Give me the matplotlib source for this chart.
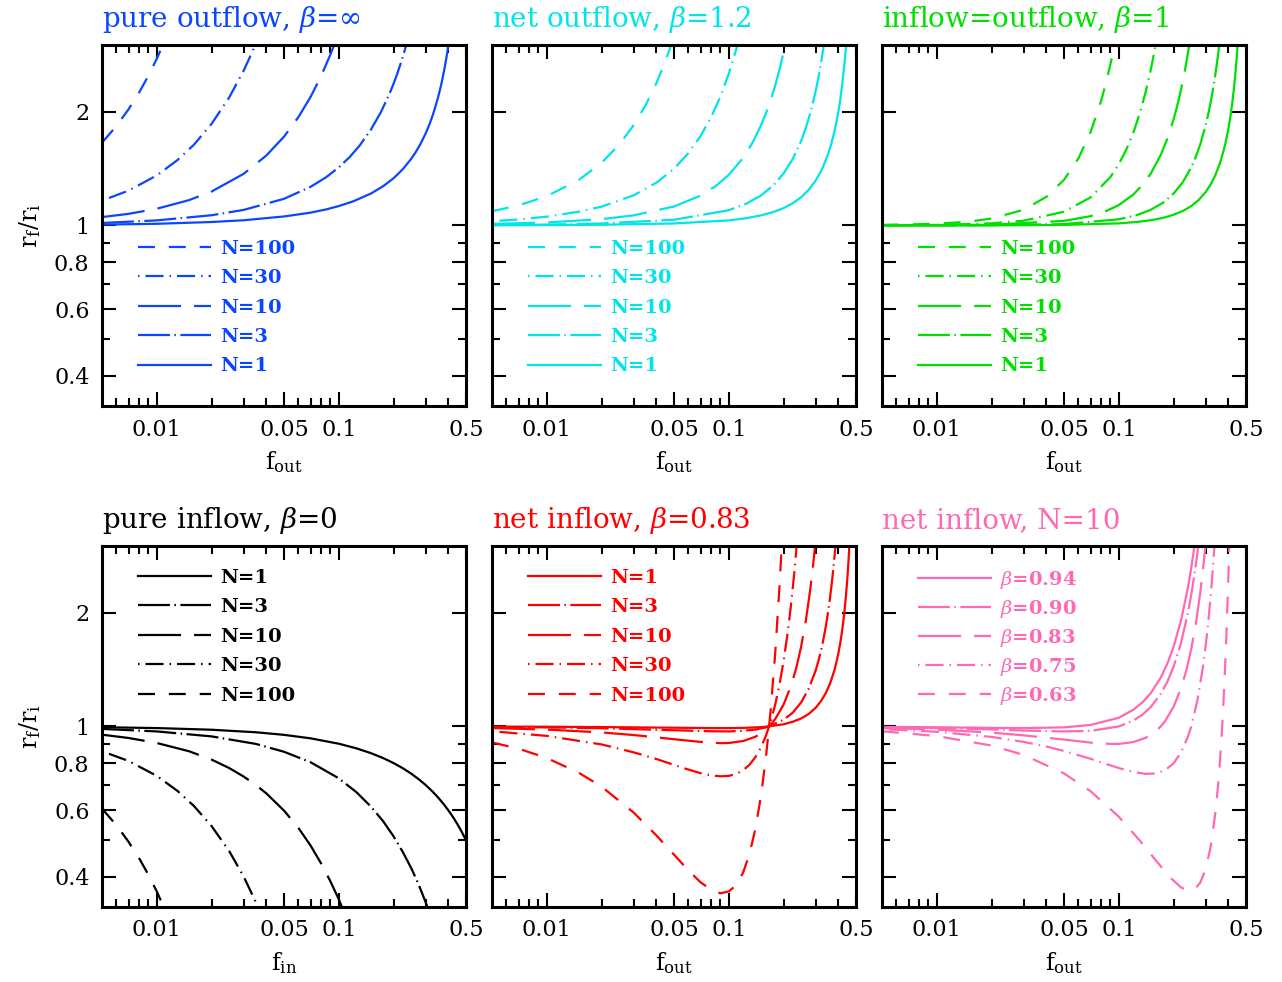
import matplotlib
matplotlib.use('Agg')
import matplotlib.pyplot as plt
from matplotlib.ticker import NullFormatter

plt.rcParams['font.family'] = 'DejaVu Serif'
plt.rcParams['mathtext.fontset'] = 'dejavuserif'
plt.rcParams['lines.scale_dashes'] = False

# ---------------- data ----------------
# curve order in every panel: N=1, 3, 10, 30, 100  (last panel: beta=0.94 ... 0.63)
out_inf_x = [
    [0.005, 0.01, 0.02, 0.03, 0.05, 0.07, 0.085, 0.1, 0.12, 0.15, 0.175, 0.2, 0.225, 0.25, 0.265, 0.28, 0.3,
     0.315, 0.33, 0.35, 0.36, 0.37, 0.38, 0.39, 0.395, 0.4, 0.41],
    [0.005, 0.01, 0.02, 0.03, 0.05, 0.07, 0.085, 0.1, 0.115, 0.13, 0.15, 0.17, 0.19, 0.2, 0.21, 0.22, 0.23, 0.24],
    [0.005, 0.007, 0.01, 0.015, 0.02, 0.03, 0.04, 0.05, 0.06, 0.07, 0.08, 0.09, 0.095],
    [0.005, 0.007, 0.01, 0.013, 0.016, 0.02, 0.025, 0.03, 0.033, 0.035],
    [0.005, 0.006, 0.007, 0.008, 0.009, 0.01, 0.011],
]
out_inf_y = [
    [1.005, 1.010, 1.021, 1.032, 1.056, 1.081, 1.102, 1.125, 1.158, 1.214, 1.269, 1.333, 1.409, 1.5, 1.564, 1.636,
     1.75, 1.851, 1.971, 2.167, 2.286, 2.423, 2.583, 2.773, 2.881, 3.0, 3.278],
    [1.015, 1.031, 1.064, 1.099, 1.176, 1.265, 1.340, 1.424, 1.518, 1.625, 1.791, 1.989, 2.230, 2.370, 2.527, 2.702, 2.899, 3.122],
    [1.052, 1.073, 1.107, 1.166, 1.229, 1.369, 1.531, 1.717, 1.934, 2.187, 2.484, 2.833, 3.031],
    [1.163, 1.236, 1.356, 1.489, 1.635, 1.856, 2.180, 2.566, 2.834, 3.029],
    [1.655, 1.832, 2.029, 2.247, 2.490, 2.760, 3.060],
]

out12_x = [
    [0.005, 0.01, 0.02, 0.05, 0.1, 0.125, 0.15, 0.175, 0.2, 0.225, 0.25, 0.275, 0.3, 0.325, 0.35, 0.365, 0.38,
     0.39, 0.4, 0.41, 0.42, 0.43, 0.435, 0.44, 0.445],
    [0.005, 0.01, 0.02, 0.05, 0.1, 0.125, 0.15, 0.175, 0.2, 0.225, 0.25, 0.265, 0.28, 0.3, 0.31, 0.32, 0.33, 0.34],
    [0.005, 0.01, 0.02, 0.03, 0.05, 0.07, 0.085, 0.1, 0.12, 0.135, 0.15, 0.16, 0.17, 0.18, 0.19, 0.2, 0.21],
    [0.005, 0.007, 0.01, 0.015, 0.02, 0.03, 0.04, 0.05, 0.06, 0.07, 0.08, 0.09, 0.1, 0.11, 0.115],
    [0.005, 0.007, 0.01, 0.015, 0.02, 0.025, 0.03, 0.035, 0.04, 0.045, 0.05],
]
out12_y = [
    [1.001, 1.002, 1.004, 1.012, 1.031, 1.045, 1.063, 1.084, 1.111, 1.145, 1.188, 1.242, 1.313, 1.406, 1.535,
     1.637, 1.765, 1.872, 2.0, 2.158, 2.356, 2.613, 2.771, 2.956, 3.174],
    [1.003, 1.005, 1.012, 1.035, 1.097, 1.142, 1.199, 1.274, 1.372, 1.501, 1.675, 1.809, 1.975, 2.261, 2.442, 2.658, 2.916, 3.229],
    [1.009, 1.018, 1.039, 1.063, 1.122, 1.199, 1.272, 1.360, 1.510, 1.654, 1.834, 1.978, 2.147, 2.347, 2.584, 2.868, 3.21],
    [1.026, 1.037, 1.055, 1.087, 1.121, 1.201, 1.297, 1.412, 1.553, 1.724, 1.934, 2.193, 2.517, 2.926, 3.170],
    [1.090, 1.130, 1.195, 1.319, 1.464, 1.636, 1.840, 2.084, 2.377, 2.731, 3.161],
]

equal_x = [
    [0.005, 0.01, 0.02, 0.05, 0.1, 0.125, 0.15, 0.175, 0.2, 0.225, 0.25, 0.275, 0.3, 0.32, 0.34, 0.36, 0.38,
     0.39, 0.4, 0.41, 0.42, 0.43, 0.435, 0.44, 0.445, 0.45],
    [0.005, 0.01, 0.02, 0.05, 0.1, 0.125, 0.15, 0.175, 0.2, 0.225, 0.25, 0.265, 0.28, 0.3, 0.31, 0.32, 0.33,
     0.34, 0.35, 0.355, 0.36],
    [0.005, 0.01, 0.02, 0.05, 0.07, 0.085, 0.1, 0.12, 0.135, 0.15, 0.17, 0.185, 0.2, 0.21, 0.22, 0.23, 0.24, 0.25],
    [0.005, 0.01, 0.02, 0.03, 0.05, 0.07, 0.09, 0.1, 0.11, 0.12, 0.13, 0.14, 0.15, 0.16],
    [0.005, 0.01, 0.015, 0.02, 0.03, 0.04, 0.05, 0.06, 0.07, 0.08, 0.085, 0.09, 0.095],
]
equal_y = [
    [1.0, 1.0001, 1.0004, 1.003, 1.0125, 1.021, 1.032, 1.047, 1.067, 1.092, 1.125, 1.168, 1.225, 1.284, 1.361,
     1.463, 1.602, 1.691, 1.8, 1.934, 2.103, 2.321, 2.456, 2.613, 2.800, 3.025],
    [1.0001, 1.0003, 1.0013, 1.008, 1.038, 1.064, 1.100, 1.148, 1.214, 1.302, 1.424, 1.519, 1.635, 1.838, 1.967,
     2.119, 2.302, 2.522, 2.793, 2.952, 3.130],
    [1.0003, 1.001, 1.004, 1.028, 1.058, 1.091, 1.132, 1.206, 1.280, 1.372, 1.535, 1.697, 1.907, 2.081, 2.291, 2.546, 2.859, 3.247],
    [1.001, 1.003, 1.013, 1.029, 1.087, 1.186, 1.343, 1.452, 1.587, 1.756, 1.969, 2.238, 2.583, 3.030],
    [1.003, 1.010, 1.023, 1.043, 1.100, 1.190, 1.320, 1.504, 1.765, 2.136, 2.379, 2.672, 3.028],
]

in0_x = [
    [0.005, 0.01, 0.02, 0.035, 0.05, 0.07, 0.1, 0.125, 0.15, 0.175, 0.2, 0.225, 0.25, 0.275, 0.3, 0.325, 0.35,
     0.375, 0.4, 0.425, 0.45, 0.475, 0.5],
    [0.005, 0.01, 0.02, 0.035, 0.05, 0.07, 0.1, 0.125, 0.15, 0.175, 0.2, 0.225, 0.25, 0.265, 0.28, 0.3, 0.32],
    [0.005, 0.007, 0.01, 0.015, 0.02, 0.025, 0.03, 0.035, 0.04, 0.05, 0.06, 0.07, 0.08, 0.09, 0.1, 0.11],
    [0.005, 0.007, 0.01, 0.013, 0.016, 0.02, 0.025, 0.03, 0.035, 0.038],
    [0.005, 0.006, 0.007, 0.008, 0.009, 0.01, 0.0115],
]
in0_y = [
    [0.995, 0.99, 0.98, 0.965, 0.95, 0.93, 0.9, 0.875, 0.85, 0.825, 0.8, 0.775, 0.75, 0.725, 0.7, 0.675, 0.65,
     0.625, 0.6, 0.575, 0.55, 0.525, 0.5],
    [0.985, 0.970, 0.941, 0.899, 0.857, 0.804, 0.729, 0.670, 0.614, 0.562, 0.512, 0.465, 0.422, 0.397, 0.373, 0.343, 0.314],
    [0.951, 0.932, 0.904, 0.860, 0.817, 0.776, 0.737, 0.700, 0.665, 0.599, 0.539, 0.484, 0.434, 0.389, 0.349, 0.312],
    [0.860, 0.810, 0.740, 0.675, 0.616, 0.545, 0.468, 0.401, 0.343, 0.313],
    [0.606, 0.548, 0.495, 0.448, 0.405, 0.366, 0.315],
]

in083_x = [
    [0.005, 0.01, 0.02, 0.05, 0.08, 0.1, 0.12, 0.14, 0.16, 0.2, 0.225, 0.25, 0.275, 0.3, 0.32, 0.34, 0.36, 0.38,
     0.39, 0.4, 0.41, 0.42, 0.43, 0.44, 0.45, 0.455, 0.46],
    [0.005, 0.01, 0.02, 0.05, 0.08, 0.1, 0.12, 0.14, 0.16, 0.2, 0.225, 0.25, 0.275, 0.3, 0.31, 0.32, 0.33, 0.34,
     0.35, 0.36, 0.37, 0.38, 0.385, 0.39],
    [0.005, 0.01, 0.02, 0.03, 0.05, 0.07, 0.09, 0.1, 0.12, 0.14, 0.15, 0.16, 0.17, 0.18, 0.2, 0.22, 0.235, 0.25,
     0.265, 0.28, 0.29, 0.3],
    [0.005, 0.01, 0.02, 0.03, 0.04, 0.05, 0.06, 0.07, 0.08, 0.09, 0.1, 0.11, 0.12, 0.13, 0.14, 0.15, 0.16, 0.17,
     0.18, 0.19, 0.2, 0.21, 0.22, 0.23, 0.24],
    [0.005, 0.007, 0.01, 0.015, 0.02, 0.03, 0.04, 0.05, 0.06, 0.07, 0.08, 0.09, 0.1, 0.11, 0.12, 0.13, 0.14, 0.15,
     0.16, 0.17, 0.18, 0.19, 0.195, 0.2],
]
in083_y = [
    [0.999, 0.998, 0.996, 0.992, 0.990, 0.990, 0.991, 0.994, 0.998, 1.013, 1.029, 1.05, 1.079, 1.12, 1.164, 1.221,
     1.298, 1.405, 1.475, 1.56, 1.665, 1.798, 1.971, 2.203, 2.53, 2.749, 3.024],
    [0.997, 0.994, 0.989, 0.977, 0.971, 0.970, 0.974, 0.981, 0.994, 1.041, 1.088, 1.158, 1.258, 1.405, 1.483, 1.575,
     1.686, 1.820, 1.985, 2.188, 2.445, 2.775, 2.977, 3.210],
    [0.990, 0.981, 0.964, 0.949, 0.925, 0.910, 0.903, 0.904, 0.915, 0.939, 0.958, 0.981, 1.010, 1.046, 1.142, 1.282,
     1.429, 1.629, 1.903, 2.293, 2.646, 3.106],
    [0.971, 0.944, 0.896, 0.854, 0.820, 0.791, 0.769, 0.752, 0.742, 0.738, 0.740, 0.749, 0.766, 0.792, 0.829, 0.879,
     0.945, 1.031, 1.144, 1.292, 1.488, 1.750, 2.106, 2.601, 3.301],
    [0.907, 0.873, 0.825, 0.754, 0.693, 0.592, 0.515, 0.458, 0.416, 0.387, 0.370, 0.362, 0.366, 0.381, 0.411, 0.460,
     0.536, 0.651, 0.828, 1.108, 1.567, 2.350, 2.952, 3.761],
]

n10_x = [
    [0.005, 0.01, 0.02, 0.03, 0.05, 0.07, 0.1, 0.12, 0.135, 0.15, 0.17, 0.185, 0.2, 0.22, 0.24, 0.25, 0.26, 0.27],
    [0.005, 0.01, 0.02, 0.03, 0.05, 0.07, 0.1, 0.12, 0.135, 0.15, 0.17, 0.185, 0.2, 0.22, 0.24, 0.25, 0.26, 0.27, 0.28],
    [0.005, 0.01, 0.02, 0.03, 0.05, 0.07, 0.09, 0.1, 0.12, 0.14, 0.15, 0.16, 0.17, 0.18, 0.2, 0.22, 0.235, 0.25,
     0.265, 0.28, 0.29, 0.3],
    [0.005, 0.01, 0.02, 0.03, 0.04, 0.05, 0.07, 0.1, 0.12, 0.14, 0.16, 0.18, 0.2, 0.22, 0.24, 0.25, 0.27, 0.29,
     0.3, 0.31, 0.32, 0.33, 0.34],
    [0.005, 0.01, 0.02, 0.03, 0.05, 0.07, 0.1, 0.13, 0.16, 0.19, 0.22, 0.24, 0.25, 0.26, 0.28, 0.3, 0.32, 0.34,
     0.35, 0.36, 0.37, 0.38, 0.39, 0.4, 0.405],
]
n10_y = [
    [0.997, 0.995, 0.991, 0.990, 0.994, 1.009, 1.054, 1.106, 1.158, 1.225, 1.346, 1.467, 1.623, 1.911, 2.332, 2.618, 2.978, 3.429],
    [0.995, 0.990, 0.982, 0.975, 0.970, 0.973, 1.0, 1.036, 1.074, 1.126, 1.219, 1.314, 1.439, 1.666, 2.001, 2.226,
     2.509, 2.862, 3.315],
    [0.990, 0.981, 0.963, 0.947, 0.923, 0.906, 0.899, 0.899, 0.909, 0.932, 0.950, 0.972, 1.0, 1.034, 1.127, 1.263,
     1.407, 1.601, 1.867, 2.247, 2.590, 3.036],
    [0.984, 0.968, 0.938, 0.910, 0.885, 0.861, 0.821, 0.776, 0.758, 0.749, 0.751, 0.766, 0.799, 0.854, 0.940, 1.0,
     1.168, 1.436, 1.629, 1.882, 2.218, 2.678, 3.320],
    [0.971, 0.943, 0.890, 0.841, 0.751, 0.674, 0.577, 0.500, 0.442, 0.400, 0.375, 0.368, 0.368, 0.370, 0.386, 0.419,
     0.481, 0.595, 0.686, 0.814, 1.0, 1.282, 1.728, 2.484, 3.059],
]

n_labels = ['N=1', 'N=3', 'N=10', 'N=30', 'N=100']
beta_labels = [r'$\beta$=0.94', r'$\beta$=0.90', r'$\beta$=0.83', r'$\beta$=0.75', r'$\beta$=0.63']

titles = [r'pure outflow, $\beta$=$\infty$', r'net outflow, $\beta$=1.2', r'inflow=outflow, $\beta$=1',
          r'pure inflow, $\beta$=0', r'net inflow, $\beta$=0.83', r'net inflow, N=10']
colors = ['#0a46ff', '#00e4ea', '#00e000', 'black', '#ff0000', '#ff69b4']

# line styles (points): solid, long dash-dot, long dash, dot-dash, dash
styles = ['-', (0, (23, 3.2, 1.1, 3.2)), (0, (31, 9.4)), (0, (1.1, 4.3, 13, 4.3)), (0, (12.2, 10))]

panels = [
    (out_inf_x, out_inf_y, n_labels, True),
    (out12_x, out12_y, n_labels, True),
    (equal_x, equal_y, n_labels, True),
    (in0_x, in0_y, n_labels, False),
    (in083_x, in083_y, n_labels, False),
    (n10_x, n10_y, beta_labels, False),
]

# ---------------- layout (pixel boxes of the original) ----------------
W, H = 1282, 982
fig = plt.figure(figsize=(W / 100, H / 100), dpi=100)
lefts = [102, 492, 882]
tops = [45, 546]
aw, ah = 364, 361

for k, (xs, ys, labels, reverse_legend) in enumerate(panels):
    row, col = divmod(k, 3)
    ax = fig.add_axes([lefts[col] / W, 1 - (tops[row] + ah) / H, aw / W, ah / H])
    c = colors[k]

    handles = []
    for i in range(5):
        ln, = ax.plot(xs[i], ys[i], color=c, lw=1.6, linestyle=styles[i], label=labels[i])
        handles.append(ln)

    ax.set_xscale('log')
    ax.set_yscale('log')
    ax.set_xlim(0.005, 0.5)
    ax.set_ylim(0.333, 3.0)

    ax.set_xticks([0.01, 0.05, 0.1, 0.5])
    ax.set_xticks([0.006, 0.007, 0.008, 0.009, 0.02, 0.03, 0.04, 0.06, 0.07, 0.08, 0.09, 0.2, 0.3, 0.4],
                  minor=True)
    ax.set_yticks([0.4, 0.6, 0.8, 1, 2])
    ax.set_yticks([0.5, 0.7, 0.9], minor=True)
    ax.xaxis.set_minor_formatter(NullFormatter())
    ax.yaxis.set_minor_formatter(NullFormatter())
    ax.set_xticklabels(['0.01', '0.05', '0.1', '0.5'])
    if col == 0:
        ax.set_yticklabels(['0.4', '0.6', '0.8', '1', '2'])
        ax.set_ylabel(r'r$_\mathrm{f}$/r$_\mathrm{i}$', fontsize=17, labelpad=8)
    else:
        ax.set_yticklabels([])

    ax.tick_params(which='both', direction='in', top=True, right=True, width=1.5,
                   labelsize=16, pad=9)
    ax.tick_params(which='major', length=10)
    ax.tick_params(which='minor', length=5.5)
    for sp in ax.spines.values():
        sp.set_linewidth(2.2)

    xl = r'f$_\mathrm{in}$' if k == 3 else r'f$_\mathrm{out}$'
    ax.set_xlabel(xl, fontsize=17, labelpad=6)

    ax.set_title(titles[k], loc='left', color=c, fontsize=20, pad=13)

    if reverse_legend:
        h = handles[::-1]
        anchor = (0.1, 0.461)
    else:
        h = handles
        anchor = (0.1, 0.937)
    # the beta labels use mathtext, which makes the rows a bit taller
    spacing = 0.36 if labels is beta_labels else 0.59
    ax.legend(handles=h, loc='upper left', bbox_to_anchor=anchor, frameon=False,
              borderpad=0, borderaxespad=0, handlelength=3.75, handletextpad=0.45,
              labelspacing=spacing, labelcolor=c,
              prop={'family': 'DejaVu Serif', 'weight': 'bold', 'size': 14})

fig.savefig('out.png', dpi=100)
